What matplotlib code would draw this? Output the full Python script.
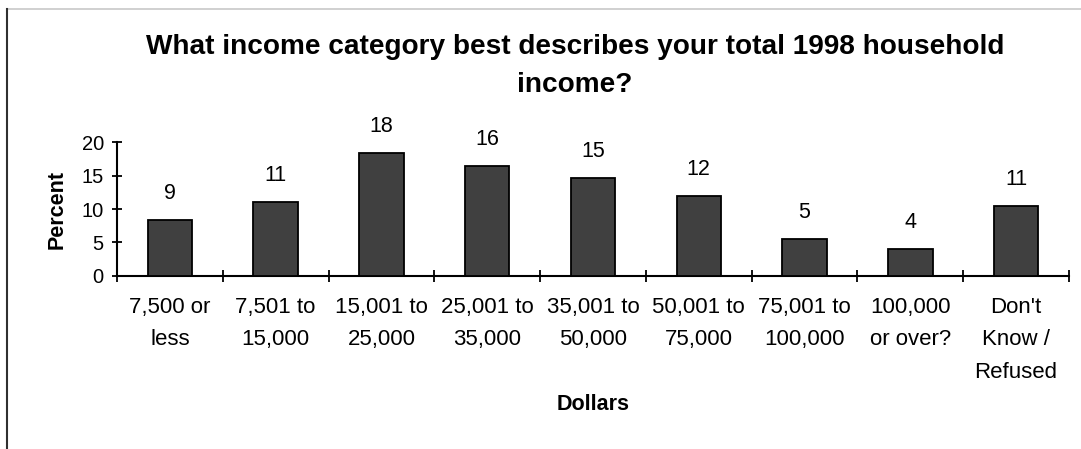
import numpy as np
import matplotlib
matplotlib.use('Agg')
import matplotlib.pyplot as plt
from matplotlib.lines import Line2D

plt.rcParams['font.family'] = ['Liberation Sans', 'DejaVu Sans']

# data
categories = ['7,500 or\nless', '7,501 to\n15,000', '15,001 to\n25,000', '25,001 to\n35,000',
              '35,001 to\n50,000', '50,001 to\n75,000', '75,001 to\n100,000', '100,000\nor over?',
              "Don't\nKnow /\nRefused"]
percent = [8.35, 11.1, 18.35, 16.5, 14.7, 11.95, 5.5, 4.0, 10.45]
bar_labels = ['9', '11', '18', '16', '15', '12', '5', '4', '11']
yticks = [0, 5, 10, 15, 20]

W, H = 1081, 449
fig = plt.figure(figsize=(W / 100, H / 100), dpi=100)
ax = fig.add_axes([117 / W, 1 - 275.7 / H, (1069 - 117) / W, (275.7 - 142.3) / H])

x = np.arange(len(categories))
ax.bar(x, percent, width=0.42, color='#404040', edgecolor='black', linewidth=1.3, zorder=3)

for xi, v, lab in zip(x, percent, bar_labels):
    ax.annotate(lab, (xi, v), xytext=(0, 19), textcoords='offset points',
                ha='center', va='center', fontsize=15.5)

ax.set_xlim(-0.5, len(categories) - 0.5)
ax.set_ylim(0, 20)
ax.set_yticks(yticks)
ax.tick_params(axis='y', direction='inout', length=7, width=1.3, labelsize=14.5, pad=6)

# tick marks between categories, labels under each bar
ax.set_xticks(np.arange(-0.5, len(categories), 1.0))
ax.set_xticklabels([])
ax.tick_params(axis='x', which='major', direction='inout', length=8, width=1.3)
ax.set_xticks(x, minor=True)
ax.set_xticklabels(categories, minor=True, fontsize=16, linespacing=1.72)
ax.tick_params(axis='x', which='minor', length=0, pad=15)

for s in ['top', 'right']:
    ax.spines[s].set_visible(False)
for s in ['left', 'bottom']:
    ax.spines[s].set_linewidth(1.5)

ax.set_ylabel('Percent', fontsize=15.5, fontweight='bold', labelpad=10)
ax.set_xlabel('Dollars', fontsize=15.5, fontweight='bold', labelpad=8)

fig.text(575 / W, 1 - 34 / H, 'What income category best describes your total 1998 household\nincome?',
         ha='center', va='top', fontsize=20.2, fontweight='bold', linespacing=1.62)

# frame remnants of the original chart area
fig.add_artist(Line2D([7 / W, 1], [1 - 9 / H, 1 - 9 / H], color='#c8c8c8', linewidth=1.2))
fig.add_artist(Line2D([7 / W, 7 / W], [0, 1 - 9 / H], color='#303030', linewidth=1.5))

fig.savefig('out.png', dpi=100)
